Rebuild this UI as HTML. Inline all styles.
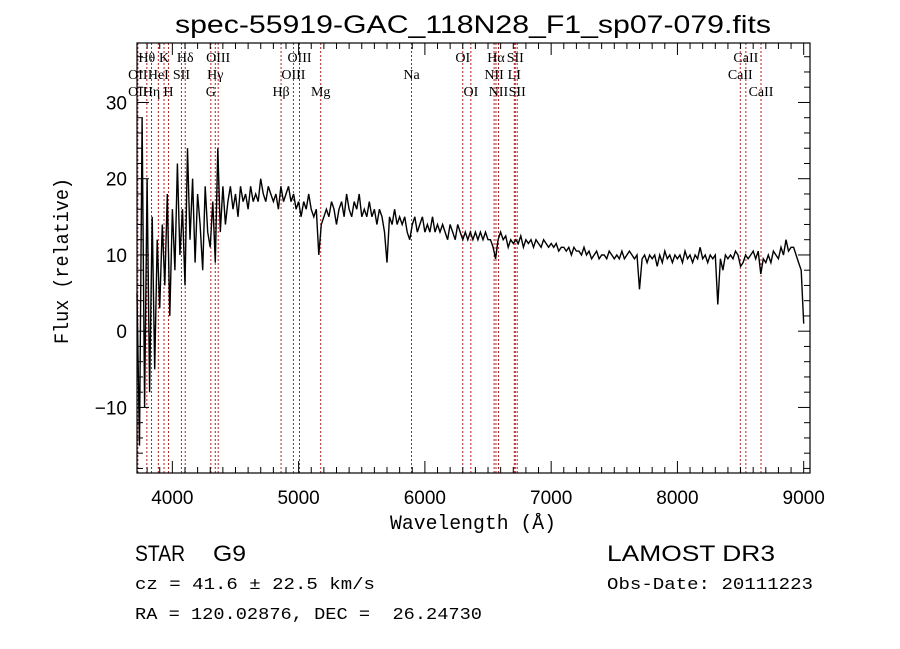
<!DOCTYPE html>
<html><head><meta charset="utf-8"><style>
body{margin:0;background:#fff;}
svg{display:block;font-family:"Liberation Sans",sans-serif;}
</style></head><body>
<svg id="chart" width="900" height="649" viewBox="0 0 900 649" xmlns="http://www.w3.org/2000/svg">
<rect x="0" y="0" width="900" height="649" fill="#fff"/>
<text x="473" y="33" font-size="25" text-anchor="middle" textLength="596" lengthAdjust="spacingAndGlyphs">spec-55919-GAC_118N28_F1_sp07-079.fits</text>
<g id="lines"></g>
<g id="labels" font-family="Liberation Serif, serif" font-size="14"></g>
<path id="spec" fill="none" stroke="#000" stroke-width="1.4"/>
<g id="axes"></g>
<rect x="137" y="43" width="673" height="430" fill="none" stroke="#000" stroke-width="1.2"/>
<text x="473" y="529" font-size="20" text-anchor="middle" font-family="Liberation Mono, monospace" textLength="166" lengthAdjust="spacingAndGlyphs">Wavelength (Å)</text>
<text transform="translate(68,261) rotate(-90)" font-size="20" text-anchor="middle" font-family="Liberation Mono, monospace" textLength="166" lengthAdjust="spacingAndGlyphs">Flux (relative)</text>
<g font-family="Liberation Sans, sans-serif" font-size="22">
<text x="135" y="561" textLength="50" lengthAdjust="spacingAndGlyphs">STAR</text>
<text x="213" y="561" textLength="33" lengthAdjust="spacingAndGlyphs">G9</text>
<text x="607" y="561" textLength="168" lengthAdjust="spacingAndGlyphs">LAMOST DR3</text>
</g>
<g font-family="Liberation Mono, monospace" font-size="17">
<text x="135" y="589" textLength="240" lengthAdjust="spacingAndGlyphs">cz = 41.6 ± 22.5 km/s</text>
<text x="607" y="589" textLength="206" lengthAdjust="spacingAndGlyphs">Obs-Date: 20111223</text>
<text x="135" y="619" textLength="347" lengthAdjust="spacingAndGlyphs" xml:space="preserve">RA = 120.02876, DEC =  26.24730</text>
</g>
</svg>
<script>
const wlStart = 3720;
const wlStep = 20;
const flux = [
5,-15,28,-10,20, -8,15,-5,12,3, 14,6,18,2,16, 8,22,10,16,6, 24,12,20,9,18, 14,8,19,13,11, 17,9,24,13,19,
14,17,19,16,18, 15,19,17,18,16, 19,17,18,17,20, 18,17,19,18,17, 18,16,19,17,18, 19,17,18,16,17,
15,17,16,18,16, 15,16,10,14,15, 16,15,17,16,14, 16,17,15,18,16, 15,17,16,18,15, 16,15,17,15,16,
14,16,15,13,9, 15,14,16,14,15, 14,15,13,12,14, 15,13,14,15,13, 14,13,15,13,14, 13,14,13,12,14,
13,12,14,13,12, 13,12,13,12,13, 12,13,12,13,12, 12,11,9.5,12,13, 12,12.5,11,12,11.5, 12,11.5,12.5,11,12,
11.5,12,11,12,11.5, 11,12,11.5,11,11.5, 11,11.5,10.5,11,11, 10.5,11,10,11,10.5, 10.5,10,11,10,10.5,
9.5,10,10.5,9.5,10, 10,9.5,10.5,10,9.5, 10,9.5,10.5,9.5,10, 10.5,10,9.5,10,5.5, 9.5,10,9,10,9.5,
10,8.5,10,9,10.5, 9.5,10,9,10,9.5, 10,9,10.5,9.5,10, 9,10,9.5,11,9.5, 10,9,10,9.5,10,
3.5,9.5,8,10,9.5, 10,9.5,10.5,10,8.5, 9,10,9.5,10,10.5, 9.5,10.5,7.5,9.5,9, 10,9,10.5,10,9.5,
11,10,12,10.5,11, 11,10,9,8,1
];
const lineWl = [3727,3798,3835,3889,3934,3969,4072,4102,4305,4340,4363,4861,4959,5007,5175,5894,6300,6364,6548,6563,6583,6708,6716,6731,8498,8542,8662];
const labelText = ["Hθ","K","Hδ","OIII","OIII","OI","Hα","SII","CaII","OII","HeI","SII","Hγ","OIII","Na","NII","LI","CaII","OII","Hη","H","G","Hβ","Mg","OI","NII","SII","CaII"];
const labelWl = [3798,3934,4102,4363,5007,6300,6563,6716,8542,3727,3889,4072,4340,4959,5894,6548,6708,8498,3727,3835,3969,4305,4861,5175,6364,6583,6731,8662];
const labelRow = [0,0,0,0,0,0,0,0,0,1,1,1,1,1,1,1,1,1,2,2,2,2,2,2,2,2,2,2];
const xTicks = [4000,5000,6000,7000,8000,9000];
const yTicks = [-10,0,10,20,30];

const X0=137,X1=810,Y0=43,Y1=473,WMIN=3720,WMAX=9050,FMIN=-18.6,FMAX=37.8;
const sx=w=>X0+(w-WMIN)/(WMAX-WMIN)*(X1-X0);
const sy=f=>Y1-(f-FMIN)/(FMAX-FMIN)*(Y1-Y0);
const NS="http://www.w3.org/2000/svg";
function mk(tag,attrs,parent){const e=document.createElementNS(NS,tag);for(const k in attrs)e.setAttribute(k,attrs[k]);parent.appendChild(e);return e;}

const lg=document.getElementById('lines');
lineWl.forEach(w=>{
  const l=mk('line',{x1:sx(w),x2:sx(w),y1:Y0,y2:Y1,stroke:'#b02020','stroke-width':1,'stroke-dasharray':'2,2'},lg);
  
  
});
const lbg=document.getElementById('labels');
labelText.forEach((t,i)=>{
  const e=mk('text',{x:sx(labelWl[i]),y:62+labelRow[i]*17,'text-anchor':'middle'},lbg);
  e.textContent=t;
  
  
});
let d='';
flux.forEach((f,i)=>{const w=wlStart+i*wlStep;d+=(i?'L':'M')+sx(w).toFixed(1)+','+sy(f).toFixed(1);});
document.getElementById('spec').setAttribute('d',d);

const ax=document.getElementById('axes');
for(let w=3800;w<=9000;w+=100){
  const major=w%1000===0, len=major?12:6;
  mk('line',{x1:sx(w),x2:sx(w),y1:Y1,y2:Y1-len,stroke:'#000','stroke-width':1},ax);
  mk('line',{x1:sx(w),x2:sx(w),y1:Y0,y2:Y0+len,stroke:'#000','stroke-width':1},ax);
}
xTicks.forEach(w=>{
  const t=mk('text',{x:sx(w),y:504,'text-anchor':'middle','font-size':19},ax);
  t.textContent=w;
  
  
});
for(let f=-18;f<=36;f+=2){
  const major=f%10===0, len=major?12:6;
  mk('line',{x1:X0,x2:X0+len,y1:sy(f),y2:sy(f),stroke:'#000','stroke-width':1},ax);
  mk('line',{x1:X1,x2:X1-len,y1:sy(f),y2:sy(f),stroke:'#000','stroke-width':1},ax);
}
yTicks.forEach(f=>{
  const t=mk('text',{x:127,y:sy(f)+7,'text-anchor':'end','font-size':19},ax);
  t.textContent=f<0?'\u2212'+(-f):f;
  
  
});
</script>
</body></html>
